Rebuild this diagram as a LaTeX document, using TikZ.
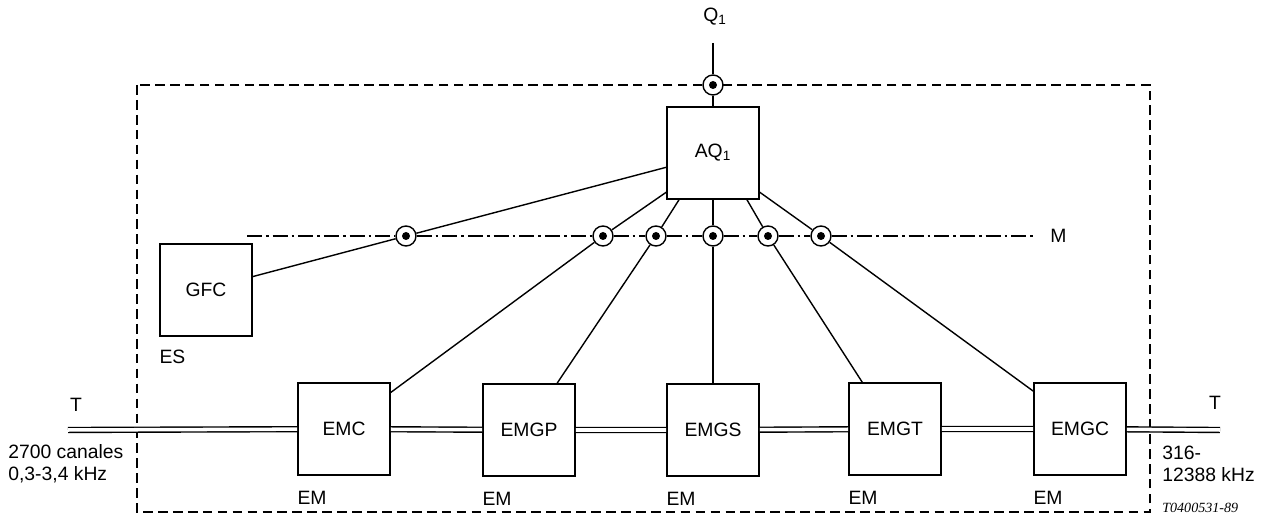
\documentclass[tikz,border=0pt]{standalone}
\usepackage{fontspec}
\setmainfont{Liberation Sans}
\newfontfamily\codefont{Liberation Serif}
\usetikzlibrary{positioning}

\tikzset{
	unit/.style={draw, line width=0.9pt, minimum size=1.84cm, inner sep=0pt, fill=white},
	tap/.style={circle, draw, line width=0.8pt, fill=white, minimum size=0.4cm, inner sep=0pt,
		path picture={\fill[black] (path picture bounding box.center) circle (0.08cm);}},
	link/.style={line width=0.8pt},
	trunk/.style={double, line width=0.8pt, double distance=2pt},
	frame/.style={line width=0.8pt, dash pattern=on 5.5pt off 3pt},
	mline/.style={line width=0.9pt, dash pattern=on 8.5pt off 2.3pt on 1.5pt off 2.3pt},
	lbl/.style={inner sep=0pt}
}

\begin{document}
\begin{tikzpicture}[x=0.02cm, y=-0.02cm, font=\fontsize{11}{12.5}\selectfont]
	\useasboundingbox (0,0) rectangle (1272,516);
	\draw[frame] (137,85) rectangle (1150,512);

	\node[unit] (aq) at (713,153) {AQ\textsubscript{1}};
	\node[unit] (gfc) at (206,290) {GFC};
	\node[unit] (emc) at (344,429) {EMC};
	\node[unit] (emgp) at (529,430) {EMGP};
	\node[unit] (emgs) at (713,430) {EMGS};
	\node[unit] (emgt) at (895,429) {EMGT};
	\node[unit] (emgc) at (1080,429) {EMGC};

	\node[tap] (q) at (713,85) {};
	\node[tap] (m0) at (406,236) {};
	\node[tap] (m1) at (603,236) {};
	\node[tap] (m2) at (656,236) {};
	\node[tap] (m3) at (713,236) {};
	\node[tap] (m4) at (768,236) {};
	\node[tap] (m5) at (821,236) {};

	\coordinate (qtop) at (713,43);
	\coordinate (mstart) at (247,236);
	\coordinate (mend) at (1033,236);
	\coordinate (tleft) at (68,430);
	\coordinate (tright) at (1220,430);

	% labels
	\node[lbl] (qlbl) at (715,17) {Q\textsubscript{1}};
	\node[lbl, anchor=west] (mlbl) at (1050,236) {M};
	\node[lbl, below right=0.25cm and 0cm of gfc.south west] (es) {ES};
	\node[lbl, below right=0.3cm and 0cm of emc.south west] (em1) {EM};
	\node[lbl, below right=0.3cm and 0cm of emgp.south west] (em2) {EM};
	\node[lbl, below right=0.3cm and 0cm of emgs.south west] (em3) {EM};
	\node[lbl, below right=0.3cm and 0cm of emgt.south west] (em4) {EM};
	\node[lbl, below right=0.3cm and 0cm of emgc.south west] (em5) {EM};
	\node[lbl] (tl) at (76,405) {T};
	\node[lbl] (tr) at (1215,403) {T};
	\node[lbl, anchor=west, align=left] (inband) at (8,464) {2700 canales\\0,3-3,4 kHz};
	\node[lbl, anchor=west, align=left] (outband) at (1162,464) {316-\\12388 kHz};
	\node[lbl, anchor=west, font=\fontsize{8}{9}\codefont\itshape] (ref) at (1162,508) {T0400531-89};

	% connections
	\draw[link] (qtop) -- (q) -- (aq.north);
	\draw[mline] (mstart) -- (m0) -- (m1) -- (m2) -- (m3) -- (m4) -- (m5) -- (mend);
	\draw[link] (aq.197) -- (m0) -- (gfc.16);
	\draw[link] (aq.220) -- (m1) -- (emc.38);
	\draw[link] (aq.234) -- (m2) -- (emgp.59);
	\draw[link] (aq.south) -- (m3) -- (emgs.north);
	\draw[link] (aq.306) -- (m4) -- (emgt.125);
	\draw[link] (aq.320) -- (m5) -- (emgc.141);
	\draw[trunk] (tleft) -- (emc) -- (emgp) -- (emgs) -- (emgt) -- (emgc) -- (tright);
\end{tikzpicture}
\end{document}
